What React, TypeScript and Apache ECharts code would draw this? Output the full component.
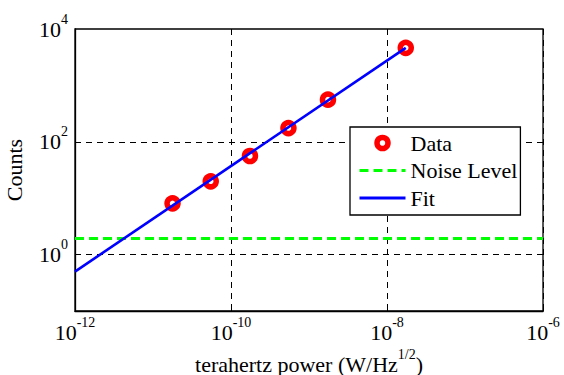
import { useEffect, useRef } from 'react';
import * as echarts from 'echarts';

// ---- data ----
const powerW = [1.78e-11, 5.5e-11, 1.75e-10, 5.45e-10, 1.75e-9, 1.74e-8];
const counts = [8.1, 19.9, 56, 175, 559, 4630];
const fitPower = [1e-12, 1.74e-8];
const fitCounts = [0.5, 4630];
const noisePower = [1e-12, 1e-6];
const noiseCounts = [1.93, 1.93];
const xTickExponents = [-12, -10, -8, -6];
const yTickExponents = [0, 2, 4];
const yGridExponents = [0, 2];
const legendNames = ['Data', 'Noise Level', 'Fit'];

const FONT = 'Liberation Serif, Times New Roman, serif';

const toLog = (xs: number[], ys: number[]) => xs.map((x, i) => [Math.log10(x), Math.log10(ys[i])]);

export default function App() {
  const ref = useRef<HTMLDivElement>(null);
  useEffect(() => {
    if (!ref.current) return;
    const chart = echarts.init(ref.current, undefined, { renderer: 'svg' });
    const rich = {
      b: { fontSize: 22, fontFamily: FONT, color: '#000', lineHeight: 22, verticalAlign: 'middle' },
      s: { fontSize: 14, fontFamily: FONT, color: '#000', lineHeight: 14, padding: [0, 0, 20, 0], verticalAlign: 'middle' },
    };
    chart.setOption({
      animation: false,
      textStyle: { fontFamily: FONT },
      grid: {
        left: 75, right: 21, top: 29, bottom: 64,
        show: true, borderColor: '#000', borderWidth: 1.3,
        outerBoundsMode: 'none',
      },
      legend: {
        orient: 'vertical',
        left: 350, top: 127,
        z: 10,
        padding: [5, 3, 6, 8],
        itemWidth: 46, itemHeight: 11, itemGap: 5.5,
        backgroundColor: '#fff', borderColor: '#000', borderWidth: 1.3,
        selectedMode: false,
        textStyle: { fontSize: 22, fontFamily: FONT, color: '#000', lineHeight: 22 },
        data: [
          { name: legendNames[0], icon: 'circle', itemStyle: { color: '#fff', borderColor: '#ff0000', borderWidth: 5.5 } },
          { name: legendNames[1], itemStyle: { opacity: 0 }, lineStyle: { width: 3 } },
          { name: legendNames[2], itemStyle: { opacity: 0 }, lineStyle: { width: 3 } },
        ],
      },
      xAxis: {
        type: 'value', min: -12, max: -6, interval: 2,
        axisLine: { show: true, onZero: false, lineStyle: { color: '#000', width: 1.3 } },
        axisTick: { show: true, inside: true, length: 5, lineStyle: { color: '#000' } },
        axisLabel: {
          margin: 10,
          fontFamily: FONT,
          formatter: (v: number) => (xTickExponents.includes(v) ? `{b|10}{s|${v}}` : ''),
          rich,
        },
        splitLine: { show: true, lineStyle: { color: '#000', type: [6, 5], width: 1 } },
        name: '{b|terahertz power (W/Hz}{s|1/2}{b|)}',
        nameLocation: 'middle',
        nameGap: 42,
        nameMoveOverlap: false,
        nameTextStyle: { fontFamily: FONT, rich },
      },
      yAxis: {
        type: 'value', min: -1, max: 4, interval: 1,
        axisLine: { show: true, onZero: false, lineStyle: { color: '#000', width: 1.3 } },
        axisTick: { show: false },
        axisLabel: {
          margin: 7,
          fontFamily: FONT,
          formatter: (v: number) => (yTickExponents.includes(v) ? `{b|10}{s|${v}}` : ''),
          rich,
        },
        splitLine: { show: false },
        name: 'Counts',
        nameLocation: 'middle',
        nameGap: 50,
        nameMoveOverlap: false,
        nameTextStyle: { fontSize: 22, fontFamily: FONT, color: '#000' },
      },
      series: [
        {
          name: 'grid',
          type: 'line',
          data: [],
          silent: true,
          z: 1,
          markLine: {
            silent: true,
            z: 1,
            symbol: ['none', 'none'],
            label: { show: false },
            lineStyle: { color: '#000', type: [6, 5], width: 1 },
            data: yGridExponents.map((e) => ({ yAxis: e })),
          },
        },
        {
          name: legendNames[1],
          type: 'line',
          data: toLog(noisePower, noiseCounts),
          symbol: 'none',
          lineStyle: { color: '#00ff00', width: 3, type: [9, 5] },
          itemStyle: { color: '#00ff00' },
          z: 2,
        },
        {
          name: legendNames[0],
          type: 'scatter',
          data: toLog(powerW, counts),
          symbol: 'circle',
          symbolSize: 11,
          itemStyle: { color: '#fff', borderColor: '#ff0000', borderWidth: 5.5, opacity: 1 },
          z: 3,
        },
        {
          name: legendNames[2],
          type: 'line',
          data: toLog(fitPower, fitCounts),
          symbol: 'none',
          lineStyle: { color: '#0000ff', width: 2.6 },
          itemStyle: { color: '#0000ff' },
          z: 4,
        },
      ],
    });
    return () => chart.dispose();
  }, []);
  return <div ref={ref} style={{ position: 'fixed', left: 0, top: 0, width: 564, height: 375, background: '#fff' }} />;
}
